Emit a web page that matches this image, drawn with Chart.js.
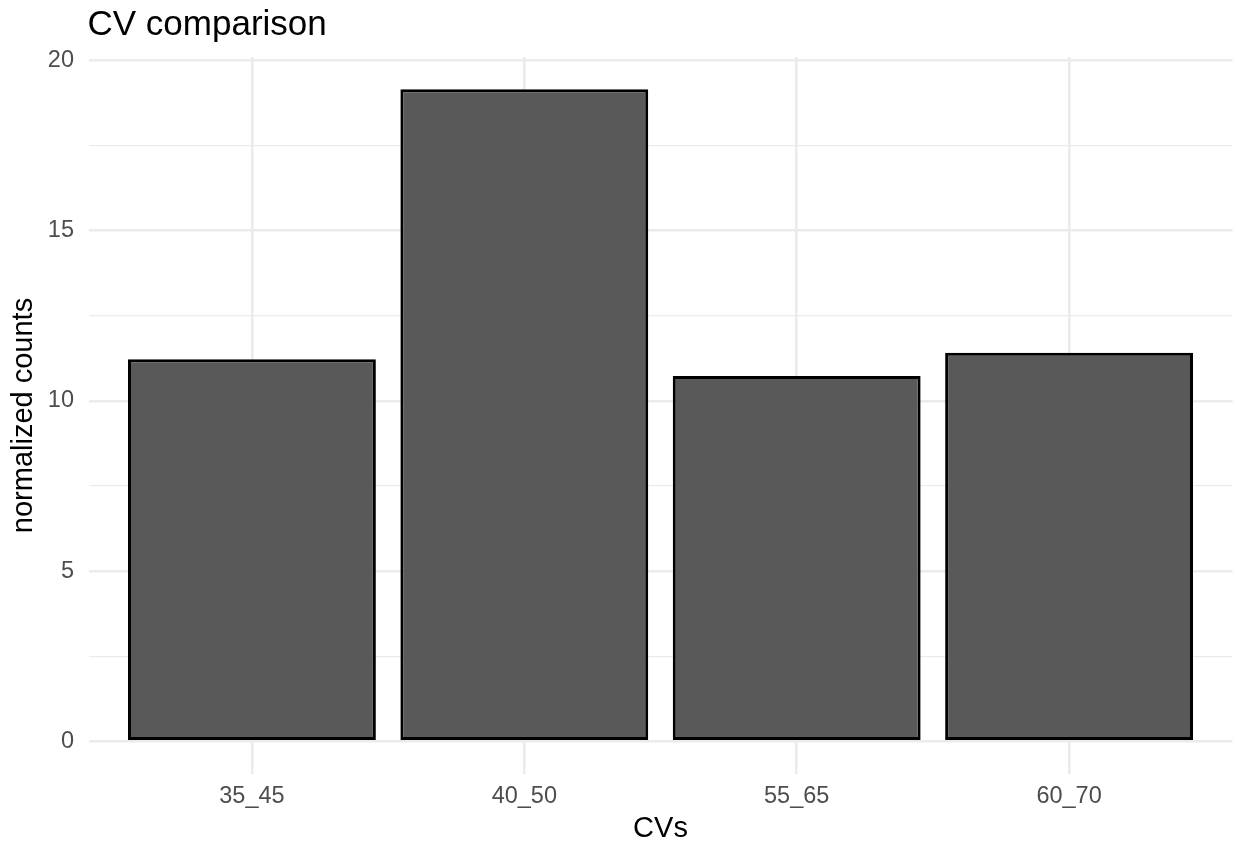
<!DOCTYPE html>
<html>
<head>
<meta charset="utf-8">
<script src="https://cdn.jsdelivr.net/npm/chart.js@4/dist/chart.umd.min.js"></script>
<style>
  body { margin: 0; background: #fff; }
  #wrap { width: 1236px; height: 845px; }
</style>
</head>
<body>
<div id="wrap"><canvas id="cvChart"></canvas></div>
<script>
const chartTitle = "CV comparison";
const categories = ["35_45", "40_50", "55_65", "60_70"];
const counts = [11.22, 19.15, 10.73, 11.41];
const yMajor = [0, 5, 10, 15, 20];
const yMinor = [2.5, 7.5, 12.5, 17.5];

const FONT = '"Liberation Sans", Arial, sans-serif';
const gridColor = "#EBEBEB";

// draw the plot title flush with the panel, like ggplot does
const titlePlugin = {
    id: "plotTitle",
    afterDraw: chart => {
        const ctx = chart.ctx;
        ctx.save();
        ctx.font = `35px ${FONT}`;
        ctx.fillStyle = "#000";
        ctx.textBaseline = "alphabetic";
        ctx.fillText(chartTitle, chart.chartArea.left - 1, chart.chartArea.top - 22);
        ctx.restore();
    }
};

const ctx = document.getElementById("cvChart").getContext("2d");
new Chart(ctx, {
    type: "bar",
    data: {
        datasets: [{
            data: categories.map((c, i) => ({ x: i + 1, y: counts[i] })),
            backgroundColor: "#595959",
            borderColor: "#000000",
            borderWidth: 3,
            borderSkipped: false,
            categoryPercentage: 1,
            barPercentage: 0.91
        }]
    },
    options: {
        responsive: true,
        maintainAspectRatio: false,
        animation: false,
        layout: { padding: { top: 57, left: 4, right: 3.5, bottom: 0 } },
        plugins: {
            legend: { display: false },
            tooltip: { enabled: false }
        },
        scales: {
            x: {
                type: "linear",
                min: 0.4,
                max: 4.6,
                offset: false,
                afterBuildTicks: scale => {
                    scale.ticks = categories.map((c, i) => ({ value: i + 1 }));
                },
                afterFit: scale => { scale.height = 71; },
                border: { display: false },
                grid: { color: gridColor, lineWidth: 2.6, drawTicks: false, offset: false },
                ticks: {
                    padding: 10.5,
                    color: "#4D4D4D",
                    font: { family: FONT, size: 23.5, lineHeight: 1 },
                    maxRotation: 0,
                    callback: v => categories[v - 1] ?? ""
                },
                title: {
                    display: true,
                    text: "CVs",
                    color: "#000",
                    font: { family: FONT, size: 29, lineHeight: 1 },
                    padding: { top: 0, bottom: 2 }
                }
            },
            y: {
                min: -0.96,
                max: 20.1,
                afterBuildTicks: scale => {
                    scale.ticks = yMajor.concat(yMinor).sort((a, b) => a - b).map(v => ({ value: v }));
                },
                afterFit: scale => { scale.width = 84.5; },
                border: { display: false },
                grid: {
                    color: gridColor,
                    lineWidth: c => yMajor.includes(c.tick.value) ? 2.6 : 1.3,
                    drawTicks: false
                },
                ticks: {
                    padding: 14.5,
                    color: "#4D4D4D",
                    font: { family: FONT, size: 23.5, lineHeight: 1 },
                    autoSkip: false,
                    callback: v => yMajor.includes(v) ? String(v) : ""
                },
                title: {
                    display: true,
                    text: "normalized counts",
                    color: "#000",
                    font: { family: FONT, size: 29, lineHeight: 1 },
                    padding: { top: 5, bottom: 0 }
                }
            }
        }
    },
    plugins: [titlePlugin]
});
</script>
</body>
</html>
